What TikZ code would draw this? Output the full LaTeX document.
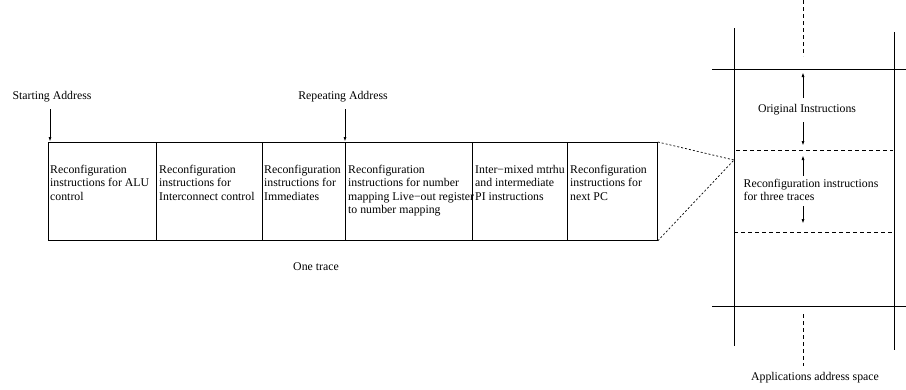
\documentclass[tikz,border=0pt]{standalone}
\usepackage{fontspec}
\setmainfont{Liberation Serif}
\usetikzlibrary{arrows.meta}
\begin{document}
\begin{tikzpicture}[x=1pt,y=-1pt,
  every node/.style={font=\fontsize{11.8}{13.4}\selectfont, inner sep=0pt},
  cell/.style={draw, line width=0.8pt, minimum height=98pt, anchor=north west},
  txt/.style={align=left, anchor=north west},
  arr/.style={-{Latex[length=5pt,width=3pt]}, line width=1pt},
  sol/.style={line width=0.8pt},
  dsh/.style={line width=0.7pt, dash pattern=on 4pt off 3pt},
  dot/.style={line width=0.7pt, dash pattern=on 2pt off 2pt}]
\useasboundingbox (0,0) rectangle (906,389);
% trace cells
\node[cell, minimum width=108pt] (c1) at (48,142) {};
\node[cell, minimum width=106pt] (c2) at (156,142) {};
\node[cell, minimum width=83pt]  (c3) at (262,142) {};
\node[cell, minimum width=127pt] (c4) at (345,142) {};
\node[cell, minimum width=95pt]  (c5) at (472,142) {};
\node[cell, minimum width=90pt]  (c6) at (567,142) {};
\node[txt] (t1) at ([xshift=2pt,yshift=-23pt]c1.north west) {Reconfiguration\\instructions for ALU\\control};
\node[txt] (t2) at ([xshift=3pt,yshift=-23pt]c2.north west) {Reconfiguration\\instructions for\\Interconnect control};
\node[txt] (t3) at ([xshift=2pt,yshift=-23pt]c3.north west) {Reconfiguration\\instructions for\\Immediates};
\node[txt] (t4) at ([xshift=3pt,yshift=-23pt]c4.north west) {Reconfiguration\\instructions for number\\mapping Live−out register\\to number mapping};
\node[txt] (t5) at ([xshift=3pt,yshift=-23pt]c5.north west) {Inter−mixed mtrhu\\and intermediate\\PI instructions};
\node[txt] (t6) at ([xshift=3pt,yshift=-23pt]c6.north west) {Reconfiguration\\instructions for\\next PC};
% address labels
\node (sa) at (52,97) {Starting Address};
\node (ra) at (343,97) {Repeating Address};
\coordinate (sa0) at (50,109);
\coordinate (ra0) at (345,109);
\draw[arr] (sa0) -- (sa0 |- c1.north);
\draw[arr] (ra0) -- (ra0 |- c4.north);
\node (ot) at (316,267) {One trace};
% right panel
\coordinate (fp) at (734,160);
\draw[dot] (c6.north east) -- (fp);
\draw[dot] (c6.south east) -- (fp);
\draw[sol] (734,28) -- (734,346);
\draw[sol] (894,32) -- (894,350);
\draw[sol] (712,69) -- (906,69);
\draw[sol] (712,306) -- (906,306);
\draw[dsh] (736,150) -- (893,150);
\draw[dsh] (734,232) -- (893,232);
\draw[dsh] (803,0) -- (803,56);
\draw[dsh] (803,314) -- (803,366);
\node (oi) at (807,110) {Original Instructions};
\draw[arr] (803,98) -- (803,72);
\draw[arr] (803,122) -- (803,146);
\node[align=left] (ri) at (811,190) {Reconfiguration instructions\\for three traces};
\draw[arr] (803,176) -- (803,155);
\draw[arr] (803,206) -- (803,224);
\node (as) at (815,378) {Applications address space};
\end{tikzpicture}
\end{document}
